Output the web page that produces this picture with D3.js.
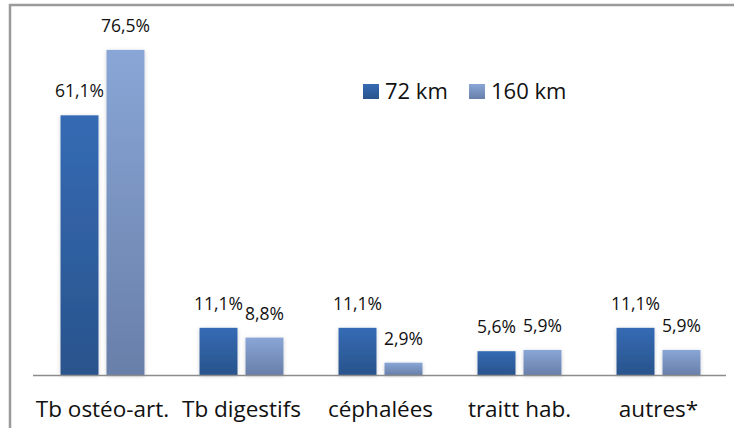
<!DOCTYPE html>
<html>
<head>
<meta charset="utf-8">
<script src="https://cdn.jsdelivr.net/npm/d3@7"></script>
<style>
  body { margin: 0; background: #fff; }
  svg { display: block; font-family: "Open Sans", sans-serif; }
</style>
</head>
<body>
<div id="wrapper"></div>
<script>
const categories = ["Tb ostéo-art.", "Tb digestifs", "céphalées", "traitt hab.", "autres*"];
const seriesNames = ["72 km", "160 km"];
const values72 = [61.1, 11.1, 11.1, 5.6, 11.1];
const values160 = [76.5, 8.8, 2.9, 5.9, 5.9];

const width = 734;
const height = 428;

const svg = d3.select("#wrapper")
  .append("svg")
  .attr("width", width)
  .attr("height", height);

const defs = svg.append("defs");

// bar gradients, top lighter than bottom
const gradients = [
  { id: "g72", top: "#356bb4", bottom: "#29538c" },
  { id: "g160", top: "#89a6d6", bottom: "#687fa9" }
];
gradients.forEach(g => {
  let lg = defs.append("linearGradient")
    .attr("id", g.id)
    .attr("x1", 0).attr("y1", 0)
    .attr("x2", 0).attr("y2", 1);
  lg.append("stop").attr("offset", "0%").attr("stop-color", g.top);
  lg.append("stop").attr("offset", "100%").attr("stop-color", g.bottom);
});

let shadow = defs.append("filter")
  .attr("id", "shadow")
  .attr("x", "-30%").attr("y", "-10%")
  .attr("width", "160%").attr("height", "130%");
shadow.append("feDropShadow")
  .attr("dx", 0).attr("dy", 1)
  .attr("stdDeviation", 2)
  .attr("flood-color", "#000")
  .attr("flood-opacity", 0.18);

// chart frame (right and bottom edges fall outside the picture)
svg.append("rect")
  .attr("x", 10).attr("y", 5)
  .attr("width", 740).attr("height", 440)
  .attr("fill", "none")
  .attr("stroke", "#9a9a9a")
  .attr("stroke-width", 2.5);

const x = d3.scaleBand()
  .domain(categories)
  .range([33, 728])
  .paddingInner(0.396)
  .paddingOuter(0.198);

const xInner = d3.scaleBand()
  .domain(seriesNames)
  .range([0, x.bandwidth()])
  .paddingInner(0.174);

const y = d3.scaleLinear()
  .domain([0, 80])
  .range([375, 35]);

const rows = categories.map((c, i) => ({
  category: c,
  values: [
    { series: seriesNames[0], value: values72[i], fill: "url(#g72)" },
    { series: seriesNames[1], value: values160[i], fill: "url(#g160)" }
  ]
}));

const groups = svg.selectAll(".group")
  .data(rows)
  .join("g")
  .attr("class", "group")
  .attr("transform", d => `translate(${x(d.category)}, 0)`);

groups.selectAll("rect")
  .data(d => d.values)
  .join("rect")
  .attr("x", d => xInner(d.series))
  .attr("y", d => y(d.value))
  .attr("width", xInner.bandwidth())
  .attr("height", d => y(0) - y(d.value))
  .attr("fill", d => d.fill)
  .attr("filter", "url(#shadow)");

groups.selectAll("text")
  .data(d => d.values)
  .join("text")
  .attr("x", d => xInner(d.series) + xInner.bandwidth() / 2)
  .attr("y", d => y(d.value) - 18)
  .attr("text-anchor", "middle")
  .attr("font-size", 17.5)
  .attr("fill", "#111")
  .text(d => d3.format(".1f")(d.value).replace(".", ",") + "%");

// baseline axis with category labels
const xAxis = svg.append("g")
  .attr("transform", `translate(0, ${y(0)})`)
  .call(d3.axisBottom(x).tickSize(0).tickPadding(0).tickSizeOuter(0));

xAxis.select(".domain")
  .attr("stroke", "#8c8c8c")
  .attr("stroke-width", 1.5)
  .attr("d", "M33,0.5H726");

xAxis.selectAll(".tick text")
  .attr("dy", 0)
  .attr("y", 42)
  .attr("font-family", "'Open Sans', sans-serif")
  .attr("font-size", 22.5)
  .attr("fill", "#111");

// legend
const legendData = [
  { name: seriesNames[0], fill: "url(#g72)", x: 363 },
  { name: seriesNames[1], fill: "url(#g160)", x: 469 }
];
const legend = svg.append("g")
  .selectAll("g")
  .data(legendData)
  .join("g")
  .attr("transform", d => `translate(${d.x}, 84)`);

legend.append("rect")
  .attr("width", 16)
  .attr("height", 15)
  .attr("fill", d => d.fill);

legend.append("text")
  .attr("x", 22)
  .attr("y", 15)
  .attr("font-size", 22)
  .attr("fill", "#111")
  .text(d => d.name);
</script>
</body>
</html>
